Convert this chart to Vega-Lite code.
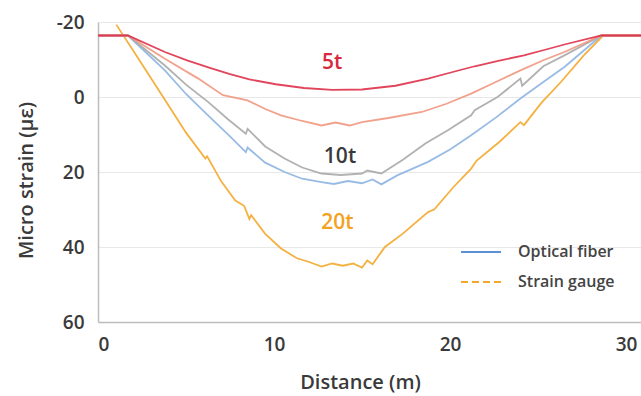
{
  "$schema": "https://vega.github.io/schema/vega-lite/v6.json",
  "width": 543,
  "height": 300,
  "autosize": "none",
  "padding": {"left": 98, "top": 22, "right": 0, "bottom": 74},
  "background": "white",
  "config": {
    "font": "Open Sans",
    "view": {"stroke": null},
    "axis": {
      "labelFontSize": 19,
      "labelColor": "#3a3a3a",
      "labelFontWeight": 600,
      "titleFontSize": 20,
      "titleColor": "#3a3a3a",
      "titleFontWeight": 600,
      "gridColor": "#e8e8e8",
      "domainColor": "#bdbdbd",
      "domainWidth": 1.5,
      "ticks": false
    }
  },
  "datasets": {
    "curves": [
      {"s": "20t", "x": 1.04, "y": -19.3},
      {"s": "20t", "x": 2.3, "y": -10.2},
      {"s": "20t", "x": 4.0, "y": 2.2},
      {"s": "20t", "x": 5.0, "y": 9.5},
      {"s": "20t", "x": 6.1, "y": 16.4},
      {"s": "20t", "x": 6.2, "y": 15.8},
      {"s": "20t", "x": 7.0, "y": 22.5},
      {"s": "20t", "x": 7.8, "y": 27.6},
      {"s": "20t", "x": 8.3, "y": 29.0},
      {"s": "20t", "x": 8.6, "y": 32.5},
      {"s": "20t", "x": 8.7, "y": 31.5},
      {"s": "20t", "x": 9.5, "y": 36.5},
      {"s": "20t", "x": 10.4, "y": 40.4},
      {"s": "20t", "x": 11.3, "y": 43.0},
      {"s": "20t", "x": 12.0, "y": 44.0},
      {"s": "20t", "x": 12.7, "y": 45.2},
      {"s": "20t", "x": 13.3, "y": 44.4},
      {"s": "20t", "x": 13.9, "y": 45.0},
      {"s": "20t", "x": 14.5, "y": 44.4},
      {"s": "20t", "x": 15.0, "y": 45.5},
      {"s": "20t", "x": 15.3, "y": 43.6},
      {"s": "20t", "x": 15.6, "y": 44.6},
      {"s": "20t", "x": 16.1, "y": 41.3},
      {"s": "20t", "x": 16.3, "y": 40.0},
      {"s": "20t", "x": 17.3, "y": 36.5},
      {"s": "20t", "x": 18.75, "y": 30.7},
      {"s": "20t", "x": 19.1, "y": 30.0},
      {"s": "20t", "x": 20.2, "y": 24.0},
      {"s": "20t", "x": 21.2, "y": 19.1},
      {"s": "20t", "x": 21.5, "y": 17.0},
      {"s": "20t", "x": 22.8, "y": 12.0},
      {"s": "20t", "x": 24.0, "y": 6.7},
      {"s": "20t", "x": 24.2, "y": 7.5},
      {"s": "20t", "x": 25.2, "y": 1.5},
      {"s": "20t", "x": 26.3, "y": -4.0},
      {"s": "20t", "x": 27.6, "y": -11.1},
      {"s": "20t", "x": 28.7, "y": -16.4},
      {"s": "20t", "x": 30.9, "y": -16.4},

      {"s": "10t OF", "x": 0, "y": -16.4},
      {"s": "10t OF", "x": 1.7, "y": -16.4},
      {"s": "10t OF", "x": 3.8, "y": -7.1},
      {"s": "10t OF", "x": 5.0, "y": -0.8},
      {"s": "10t OF", "x": 6.25, "y": 4.9},
      {"s": "10t OF", "x": 7.5, "y": 10.5},
      {"s": "10t OF", "x": 8.4, "y": 14.7},
      {"s": "10t OF", "x": 8.5, "y": 13.5},
      {"s": "10t OF", "x": 9.5, "y": 17.5},
      {"s": "10t OF", "x": 10.6, "y": 20.0},
      {"s": "10t OF", "x": 11.6, "y": 21.8},
      {"s": "10t OF", "x": 12.7, "y": 22.7},
      {"s": "10t OF", "x": 13.4, "y": 23.2},
      {"s": "10t OF", "x": 14.2, "y": 22.4},
      {"s": "10t OF", "x": 15.0, "y": 23.0},
      {"s": "10t OF", "x": 15.6, "y": 22.0},
      {"s": "10t OF", "x": 16.1, "y": 23.3},
      {"s": "10t OF", "x": 17.0, "y": 20.9},
      {"s": "10t OF", "x": 18.75, "y": 17.3},
      {"s": "10t OF", "x": 20.0, "y": 14.0},
      {"s": "10t OF", "x": 21.2, "y": 10.2},
      {"s": "10t OF", "x": 22.6, "y": 5.5},
      {"s": "10t OF", "x": 24.0, "y": 0.4},
      {"s": "10t OF", "x": 25.3, "y": -4.0},
      {"s": "10t OF", "x": 26.5, "y": -8.0},
      {"s": "10t OF", "x": 28.6, "y": -16.4},
      {"s": "10t OF", "x": 30.9, "y": -16.4},

      {"s": "10t", "x": 0, "y": -16.4},
      {"s": "10t", "x": 1.7, "y": -16.4},
      {"s": "10t", "x": 3.8, "y": -8.4},
      {"s": "10t", "x": 5.0, "y": -3.3},
      {"s": "10t", "x": 6.25, "y": 1.3},
      {"s": "10t", "x": 7.4, "y": 6.0},
      {"s": "10t", "x": 8.4, "y": 9.8},
      {"s": "10t", "x": 8.5, "y": 8.5},
      {"s": "10t", "x": 9.5, "y": 13.2},
      {"s": "10t", "x": 10.6, "y": 16.4},
      {"s": "10t", "x": 11.6, "y": 18.8},
      {"s": "10t", "x": 12.7, "y": 20.4},
      {"s": "10t", "x": 13.8, "y": 20.8},
      {"s": "10t", "x": 15.0, "y": 20.4},
      {"s": "10t", "x": 15.3, "y": 19.6},
      {"s": "10t", "x": 16.1, "y": 20.4},
      {"s": "10t", "x": 17.3, "y": 16.8},
      {"s": "10t", "x": 18.6, "y": 12.4},
      {"s": "10t", "x": 19.9, "y": 8.8},
      {"s": "10t", "x": 21.2, "y": 4.9},
      {"s": "10t", "x": 21.4, "y": 3.5},
      {"s": "10t", "x": 22.7, "y": 0.0},
      {"s": "10t", "x": 24.0, "y": -4.9},
      {"s": "10t", "x": 24.1, "y": -3.0},
      {"s": "10t", "x": 25.3, "y": -8.2},
      {"s": "10t", "x": 26.5, "y": -11.1},
      {"s": "10t", "x": 28.6, "y": -16.4},
      {"s": "10t", "x": 30.9, "y": -16.4},

      {"s": "7.5t", "x": 0, "y": -16.4},
      {"s": "7.5t", "x": 1.7, "y": -16.4},
      {"s": "7.5t", "x": 3.8, "y": -10.2},
      {"s": "7.5t", "x": 5.7, "y": -4.9},
      {"s": "7.5t", "x": 7.1, "y": -0.5},
      {"s": "7.5t", "x": 8.5, "y": 0.9},
      {"s": "7.5t", "x": 9.5, "y": 3.2},
      {"s": "7.5t", "x": 10.4, "y": 4.9},
      {"s": "7.5t", "x": 11.6, "y": 6.4},
      {"s": "7.5t", "x": 12.7, "y": 7.6},
      {"s": "7.5t", "x": 13.5, "y": 6.8},
      {"s": "7.5t", "x": 14.3, "y": 7.6},
      {"s": "7.5t", "x": 15.0, "y": 6.7},
      {"s": "7.5t", "x": 16.5, "y": 5.6},
      {"s": "7.5t", "x": 18.4, "y": 4.0},
      {"s": "7.5t", "x": 19.8, "y": 1.8},
      {"s": "7.5t", "x": 21.2, "y": -0.9},
      {"s": "7.5t", "x": 22.6, "y": -4.0},
      {"s": "7.5t", "x": 24.0, "y": -7.1},
      {"s": "7.5t", "x": 25.3, "y": -9.8},
      {"s": "7.5t", "x": 26.5, "y": -12.0},
      {"s": "7.5t", "x": 28.6, "y": -16.4},
      {"s": "7.5t", "x": 30.9, "y": -16.4},

      {"s": "5t", "x": 0, "y": -16.4},
      {"s": "5t", "x": 1.7, "y": -16.4},
      {"s": "5t", "x": 3.8, "y": -12.0},
      {"s": "5t", "x": 5.1, "y": -9.7},
      {"s": "5t", "x": 6.4, "y": -7.7},
      {"s": "5t", "x": 7.5, "y": -6.1},
      {"s": "5t", "x": 8.6, "y": -4.7},
      {"s": "5t", "x": 10.1, "y": -3.4},
      {"s": "5t", "x": 11.7, "y": -2.4},
      {"s": "5t", "x": 13.3, "y": -1.9},
      {"s": "5t", "x": 15.0, "y": -2.0},
      {"s": "5t", "x": 16.9, "y": -3.0},
      {"s": "5t", "x": 18.75, "y": -4.9},
      {"s": "5t", "x": 20.1, "y": -6.6},
      {"s": "5t", "x": 21.4, "y": -8.2},
      {"s": "5t", "x": 22.8, "y": -9.7},
      {"s": "5t", "x": 24.2, "y": -11.1},
      {"s": "5t", "x": 25.4, "y": -12.6},
      {"s": "5t", "x": 26.5, "y": -14.0},
      {"s": "5t", "x": 28.6, "y": -16.4},
      {"s": "5t", "x": 30.9, "y": -16.4}
    ],
    "labels": [
      {"label": "5t", "x": 13.3, "y": -9.0},
      {"label": "10t", "x": 13.75, "y": 16.0},
      {"label": "20t", "x": 13.6, "y": 33.6}
    ],
    "sensors": [
      {"sensor": "Optical fiber"},
      {"sensor": "Strain gauge"}
    ]
  },
  "layer": [
    {
      "data": {"name": "curves"},
      "mark": {"type": "line", "strokeWidth": 1.8, "opacity": 0.9, "interpolate": "linear"},
      "encoding": {
        "x": {
          "field": "x", "type": "quantitative",
          "scale": {"domain": [0, 30.85], "nice": false},
          "axis": {"values": [0, 10, 20, 30], "grid": false, "title": "Distance (m)", "labelPadding": 13, "titlePadding": 18, "titleX": 262}
        },
        "y": {
          "field": "y", "type": "quantitative",
          "scale": {"domain": [-20, 60], "reverse": true, "nice": false},
          "axis": {"values": [-20, 0, 20, 40, 60], "title": "Micro strain (με)", "labelPadding": 14, "titlePadding": 20, "titleY": 158, "labelExpr": "replace(datum.label, '\u2212', '-')"}
        },
        "color": {
          "field": "s", "type": "nominal",
          "scale": {"domain": ["20t", "10t OF", "10t", "7.5t", "5t"], "range": ["#f3a82c", "#8db4e2", "#a9a9a9", "#f1977f", "#de3049"]},
          "legend": null
        },
        "strokeWidth": {
          "field": "s", "type": "nominal",
          "scale": {"domain": ["20t", "10t OF", "10t", "7.5t", "5t"], "range": [1.8, 1.6, 1.6, 1.6, 2.4]},
          "legend": null
        }
      }
    },
    {
      "data": {"name": "labels"},
      "mark": {"type": "text", "fontSize": 21, "fontWeight": 600, "font": "Open Sans"},
      "encoding": {
        "x": {"field": "x", "type": "quantitative"},
        "y": {"field": "y", "type": "quantitative"},
        "text": {"field": "label"},
        "color": {
          "field": "label", "type": "nominal",
          "scale": {"domain": ["5t", "10t", "20t"], "range": ["#d9283e", "#3a3a3a", "#f2a21e"]},
          "legend": null
        }
      }
    },
    {
      "data": {"name": "sensors"},
      "mark": {"type": "line", "opacity": 0},
      "encoding": {
        "x": {"datum": 0, "type": "quantitative"},
        "y": {"datum": 0, "type": "quantitative"},
        "color": {
          "field": "sensor", "type": "nominal",
          "scale": {"domain": ["Optical fiber", "Strain gauge"], "range": ["#5b8fd6", "#f3a82c"]},
          "legend": {
            "title": null, "orient": "none", "legendX": 362, "legendY": 222,
            "symbolType": "stroke", "symbolSize": 1600, "symbolStrokeWidth": 2,
            "symbolOpacity": 1, "labelFontSize": 16, "labelFontWeight": 600, "labelColor": "#444",
            "labelOffset": 16, "rowPadding": 14, "clipHeight": 16, "labelFont": "Open Sans",
            "encode": {"symbols": {"update": {"strokeDash": {"signal": "datum.value === 'Strain gauge' ? [7, 4] : [1, 0]"}}}}
          }
        }
      }
    }
  ],
  "resolve": {"scale": {"color": "independent"}}
}
